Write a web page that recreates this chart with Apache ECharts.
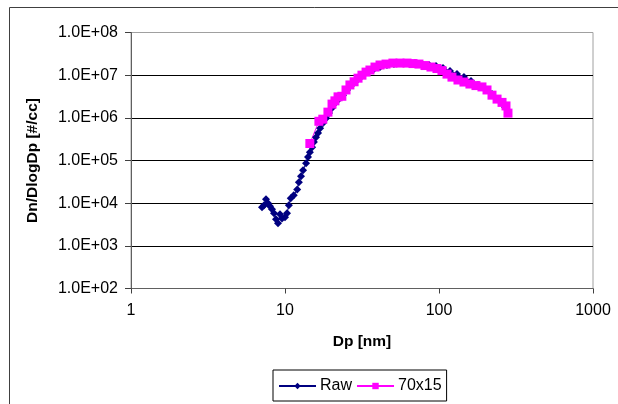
<!DOCTYPE html>
<html>
<head>
<meta charset="utf-8">
<script src="https://cdn.jsdelivr.net/npm/echarts@6/dist/echarts.min.js"></script>
<style>html,body{margin:0;padding:0;background:#fff}#c{width:618px;height:404px}</style>
</head>
<body>
<div id="c"></div>
<script>
const rawDp = [7.09,7.31,7.53,7.76,7.99,8.23,8.48,8.74,9.01,9.28,9.56,10.0,10.3,10.6,10.9,11.4,12.0,12.3,12.7,13.1,13.7,14.1,14.5,15.0,15.4,15.9,16.4,16.9,17.6,18.5,19.3,20.2,21.1,22.4,23.8,25.3,27.2,29.4,31.6,34.6,37.8,41.4,45.9,51.0,56.6,62.9,69.8,77.6,86.1,95.6,106.2,117.9,130.9,145.2,161.3,179.1,198.9,220.9,245.3,268.4,280.5];
const rawN = [8.0e3,8.9e3,1.24e4,9.95e3,8.5e3,7.2e3,5.8e3,4.2e3,3.4e3,5.5e3,4.4e3,4.7e3,5.8e3,8.9e3,1.3e4,1.53e4,2.1e4,3.1e4,4.3e4,5.9e4,8.6e4,1.2e5,1.57e5,2.05e5,2.7e5,3.5e5,4.4e5,5.7e5,7.5e5,9.8e5,1.29e6,1.69e6,2.2e6,2.75e6,3.4e6,4.5e6,5.9e6,7.7e6,9.5e6,1.18e7,1.39e7,1.55e7,1.73e7,1.82e7,1.92e7,1.92e7,1.92e7,1.82e7,1.73e7,1.64e7,1.47e7,1.25e7,1.06e7,9.0e6,7.3e6,5.9e6,4.7e6,3.6e6,2.6e6,1.78e6,1.29e6];
const pinkDp = [14.5,16.6,17.6,19.0,20.2,21.1,22.1,23.4,24.9,26.4,28.1,29.8,31.6,33.6,35.6,38.4,41.4,45.3,50.2,55.8,62.0,67.8,74.1,81.1,88.7,97.0,104.5,112.7,121.4,132.8,145.2,158.8,173.8,190.1,205.0,220.9,238.2,256.6,272.3,280.5];
const pinkN = [2.5e5,8.3e5,9.3e5,1.36e6,2.1e6,2.5e6,3.1e6,3.2e6,4.5e6,5.9e6,7.0e6,8.5e6,1.0e7,1.18e7,1.32e7,1.55e7,1.73e7,1.82e7,1.92e7,1.92e7,1.92e7,1.87e7,1.82e7,1.68e7,1.55e7,1.43e7,1.28e7,1.06e7,9.0e6,7.7e6,6.9e6,6.2e6,5.7e6,5.3e6,4.5e6,3.4e6,2.75e6,2.3e6,1.9e6,1.29e6];
const seriesNames = ['Raw','70x15'];
const xTickLabels = ['1','10','100','1000'];
const yTickLabels = ['1.0E+02','1.0E+03','1.0E+04','1.0E+05','1.0E+06','1.0E+07','1.0E+08'];

const FONT = '"Liberation Sans", Arial, sans-serif';
const chart = echarts.init(document.getElementById('c'));
const zip = (a,b) => a.map((v,i)=>[v,b[i]]);
chart.setOption({
  animation: false,
  backgroundColor: '#fff',
  textStyle: {fontFamily: FONT},
  graphic: [{
    type: 'rect', z: -1,
    shape: {x: 9.5, y: 7.5, width: 640, height: 420},
    style: {fill: 'none', stroke: '#404040', lineWidth: 1}
  }],
  grid: {left: 131, right: 25, top: 32.5, bottom: 115.5, show: true, borderColor: '#a0a0a0', borderWidth: 1, backgroundColor: 'transparent'},
  legend: {
    left: 273, top: 370,
    data: seriesNames,
    itemWidth: 37, itemHeight: 8, itemGap: 4,
    padding: [8, 5, 7, 5],
    borderColor: '#000', borderWidth: 1,
    textStyle: {fontSize: 16, color: '#000', fontFamily: FONT, padding: [0,0,0,-1]}
  },
  xAxis: {
    type: 'log', logBase: 10, min: 1, max: 1000,
    name: 'Dp [nm]', nameLocation: 'middle', nameGap: 45,
    nameTextStyle: {fontSize: 15.5, fontWeight: 'bold', color: '#000', fontFamily: FONT},
    axisLine: {lineStyle: {color: '#606060', width: 1}},
    axisTick: {show: true, length: 5, lineStyle: {color: '#404040'}},
    axisLabel: {fontSize: 16, color: '#000', margin: 14, fontFamily: FONT,
      formatter: v => xTickLabels[Math.round(Math.log10(v))]},
    splitLine: {show: false},
    minorTick: {show: false}
  },
  yAxis: {
    type: 'log', logBase: 10, min: 1e2, max: 1e8,
    name: 'Dn/DlogDp [#/cc]', nameLocation: 'middle', nameGap: 90, nameRotate: 90,
    nameTextStyle: {fontSize: 15.5, fontWeight: 'bold', color: '#000', fontFamily: FONT},
    axisLine: {lineStyle: {color: '#606060', width: 1}},
    axisTick: {show: true, length: 6, lineStyle: {color: '#404040'}},
    axisLabel: {fontSize: 16, color: '#000', margin: 13, fontFamily: FONT,
      formatter: v => yTickLabels[Math.round(Math.log10(v)) - 2]},
    splitLine: {show: true, showMinLine: false, showMaxLine: false, lineStyle: {color: '#000', width: 1}}
  },
  series: [{
    name: seriesNames[0], type: 'line', data: zip(rawDp, rawN),
    symbol: 'diamond', symbolSize: 8, showAllSymbol: true,
    lineStyle: {color: '#000080', width: 1},
    itemStyle: {color: '#000080'}
  },{
    name: seriesNames[1], type: 'line', data: zip(pinkDp, pinkN),
    symbol: 'rect', symbolSize: 9, showAllSymbol: true,
    lineStyle: {color: '#ff00ff', width: 1},
    itemStyle: {color: '#ff00ff'}
  }]
});
</script>
</body>
</html>
